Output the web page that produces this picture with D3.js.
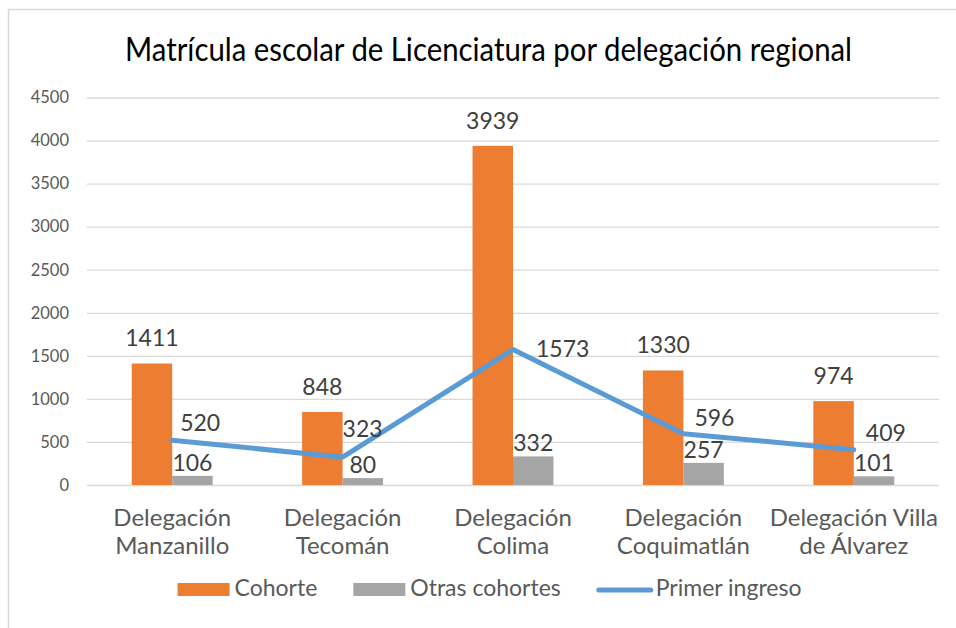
<!DOCTYPE html>
<html>
<head>
<meta charset="utf-8">
<script src="https://cdn.jsdelivr.net/npm/d3@7"></script>
<style>
  html, body { margin: 0; padding: 0; background: #fff; }
  svg { display: block; font-family: Lato, "Open Sans", sans-serif; }
</style>
</head>
<body>
<svg id="chart" width="956" height="628"></svg>
<script>
// Matrícula escolar por delegación regional
const title = "Matrícula escolar de Licenciatura por delegación regional";
const categories = [
  ["Delegación", "Manzanillo"],
  ["Delegación", "Tecomán"],
  ["Delegación", "Colima"],
  ["Delegación", "Coquimatlán"],
  ["Delegación Villa", "de Álvarez"]
];
const cohorte = [1411, 848, 3939, 1330, 974];
const otrasCohortes = [106, 80, 332, 257, 101];
const primerIngreso = [520, 323, 1573, 596, 409];
const seriesNames = ["Cohorte", "Otras cohortes", "Primer ingreso"];
const yTicks = [0, 500, 1000, 1500, 2000, 2500, 3000, 3500, 4000, 4500];

// label nudges for the line's value labels (keeps them clear of the bars)
const lineLabelDx = [8, 0, 23, 11, 12];
const lineLabelDy = [-9, -20, 7, -8, -9];

const colors = { orange: "#ED7D31", gray: "#A5A5A5", blue: "#5B9BD5" };
const textColor = "#595959";
const labelColor = "#404040";

const svg = d3.select("#chart");

// outer frame
svg.append("path")
  .attr("d", "M8.5,628 V9.5 H956")
  .attr("fill", "none")
  .attr("stroke", "#D9D9D9")
  .attr("stroke-width", 1.5);

// title
svg.append("text")
  .attr("x", 488.5)
  .attr("y", 61)
  .attr("text-anchor", "middle")
  .attr("font-size", 33)
  .attr("fill", "#000")
  .attr("textLength", 727)
  .attr("lengthAdjust", "spacingAndGlyphs")
  .text(title);

const plot = { left: 87, right: 939, top: 97.5, bottom: 485 };

const y = d3.scaleLinear().domain([0, 4500]).range([plot.bottom, plot.top]);
const idx = categories.map((_, i) => i);
const x0 = d3.scaleBand().domain(idx).range([plot.left, plot.right])
  .paddingInner(0.525).paddingOuter(0.2625);
const x1 = d3.scaleBand().domain([0, 1]).range([0, x0.bandwidth()]);
const xc = i => x0(i) + x0.bandwidth() / 2;

// gridlines
const yAxis = d3.axisLeft(y).tickValues(yTicks)
  .tickSize(-(plot.right - plot.left)).tickPadding(18).tickFormat(d3.format("d"));
const gAxis = svg.append("g")
  .attr("transform", `translate(${plot.left},0)`)
  .call(yAxis);
gAxis.select(".domain").remove();
gAxis.selectAll(".tick line").attr("stroke", "#D9D9D9").attr("stroke-width", 1.3);
gAxis.selectAll(".tick text")
  .attr("fill", textColor)
  .attr("font-size", 16.5)
  .attr("font-family", "Lato, sans-serif");

// bars
const barData = [
  { values: cohorte, color: colors.orange, k: 0 },
  { values: otrasCohortes, color: colors.gray, k: 1 }
];
barData.forEach(s => {
  svg.append("g").selectAll("rect")
    .data(s.values)
    .join("rect")
    .attr("x", (d, i) => x0(i) + x1(s.k))
    .attr("y", d => y(d))
    .attr("width", x1.bandwidth())
    .attr("height", d => y(0) - y(d))
    .attr("fill", s.color);
});

// line
const line = d3.line().x((d, i) => xc(i)).y(d => y(d));
svg.append("path")
  .datum(primerIngreso)
  .attr("d", line)
  .attr("fill", "none")
  .attr("stroke", colors.blue)
  .attr("stroke-width", 5)
  .attr("stroke-linejoin", "round")
  .attr("stroke-linecap", "round");

// value labels
const labels = svg.append("g")
  .attr("font-size", 23)
  .attr("fill", labelColor);

labels.selectAll("text.c")
  .data(cohorte)
  .join("text")
  .attr("class", "c")
  .attr("x", (d, i) => x0(i) + x1(0) + x1.bandwidth() / 2)
  .attr("y", d => y(d) - 17)
  .attr("text-anchor", "middle")
  .text(d => d);

labels.selectAll("text.o")
  .data(otrasCohortes)
  .join("text")
  .attr("class", "o")
  .attr("x", (d, i) => x0(i) + x1(1) + x1.bandwidth() / 2)
  .attr("y", d => y(d) - 5)
  .attr("text-anchor", "middle")
  .text(d => d);

labels.selectAll("text.p")
  .data(primerIngreso)
  .join("text")
  .attr("class", "p")
  .attr("x", (d, i) => xc(i) + lineLabelDx[i])
  .attr("y", (d, i) => y(d) + lineLabelDy[i])
  .attr("text-anchor", "start")
  .text(d => d);

// category labels
const cat = svg.append("g")
  .attr("font-size", 24)
  .attr("fill", textColor)
  .attr("text-anchor", "middle");
categories.forEach((lines, i) => {
  const t = cat.append("text").attr("x", xc(i)).attr("y", 525.7);
  lines.forEach((ln, j) => {
    t.append("tspan").attr("x", xc(i)).attr("dy", j === 0 ? 0 : 28.6).text(ln);
  });
});

// legend
const legend = svg.append("g").attr("font-size", 23).attr("fill", textColor);
const swatchW = 52, swatchGap = 5, itemGap = 36, legendBase = 596, legendCenter = 489.5;
const items = seriesNames.map((name, i) => {
  const g = legend.append("g");
  if (i < 2) {
    g.append("rect").attr("x", 0).attr("y", legendBase - 13)
      .attr("width", swatchW).attr("height", 13)
      .attr("fill", i === 0 ? colors.orange : colors.gray);
  } else {
    g.append("line").attr("x1", 2).attr("x2", swatchW + 2)
      .attr("y1", legendBase - 6).attr("y2", legendBase - 6)
      .attr("stroke", colors.blue).attr("stroke-width", 5)
      .attr("stroke-linecap", "round");
  }
  const t = g.append("text").attr("x", swatchW + swatchGap + (i === 2 ? 2 : 0))
    .attr("y", legendBase).text(name);
  const w = swatchW + swatchGap + (i === 2 ? 2 : 0) + t.node().getComputedTextLength();
  return { g, w };
});
const total = d3.sum(items, d => d.w) + itemGap * (items.length - 1);
let cx = legendCenter - total / 2;
items.forEach(it => {
  it.g.attr("transform", `translate(${cx},0)`);
  cx += it.w + itemGap;
});
</script>
</body>
</html>
